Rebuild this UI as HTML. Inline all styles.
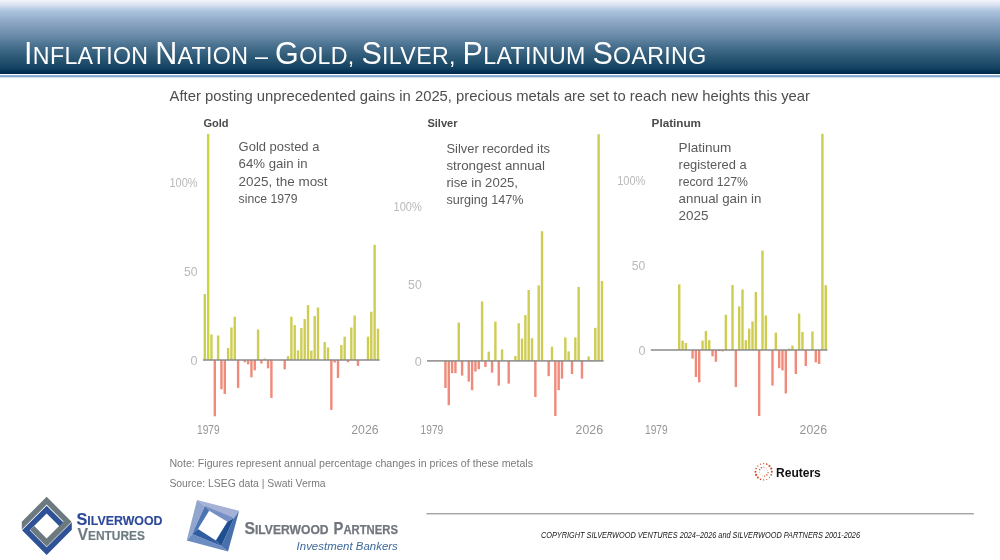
<!DOCTYPE html>
<html lang="en">
<head>
<meta charset="utf-8">
<title>Inflation Nation – Gold, Silver, Platinum Soaring</title>
<style>
html,body{margin:0;padding:0;background:#fff;}
body{width:1000px;height:560px;overflow:hidden;position:relative;font-family:"Liberation Sans",sans-serif;}
#hdr{position:absolute;left:0;top:0;width:1000px;height:73.5px;
 background:linear-gradient(to bottom,#f3f6fb 0px,#dce4f2 4.5px,#b9cde4 9px,#a8c0dc 12px,#a0b9d4 15px,#8ca5c3 22.5px,#7896b4 30px,#6487a5 37.5px,#4b7391 45px,#376280 52.5px,#26536f 60px,#134262 68px,#002d4e 72.5px,#002d4e 73.5px);}
#hline{position:absolute;left:0;top:75px;width:1000px;height:3.2px;background:linear-gradient(to bottom,#a9c2e0 0%,#86a9d2 25%,#86a9d2 55%,#ffffff 100%);}
#title{position:absolute;left:24px;top:33.1px;margin:0;color:#fff;font-weight:normal;font-size:23.2px;line-height:40px;white-space:nowrap;letter-spacing:0.33px;}
#title b{font-weight:normal;font-size:30.5px;}
svg{position:absolute;left:0;top:0;}
svg text{font-family:"Liberation Sans",sans-serif;}
</style>
</head>
<body>
<div id="hdr"></div>
<div id="hline"></div>
<h1 id="title"><b>I</b>NFLATION <b>N</b>ATION – <b>G</b>OLD, <b>S</b>ILVER, <b>P</b>LATINUM <b>S</b>OARING</h1>
<svg width="1000" height="560" viewBox="0 0 1000 560">
<defs><filter id="bl" x="-5%" y="-5%" width="110%" height="110%"><feGaussianBlur stdDeviation="0.55"/></filter><filter id="bl2" x="-5%" y="-200%" width="110%" height="500%"><feGaussianBlur stdDeviation="0.3"/></filter></defs>
<g filter="url(#bl)"><rect x="203.60" y="294.10" width="2.4" height="65.90" fill="#cecd52"/>
<rect x="206.93" y="133.90" width="2.4" height="226.10" fill="#c8d741"/>
<rect x="210.26" y="334.50" width="2.4" height="25.50" fill="#cecd52"/>
<rect x="216.92" y="335.50" width="2.4" height="24.50" fill="#cecd52"/>
<rect x="226.91" y="348.10" width="2.4" height="11.90" fill="#cecd52"/>
<rect x="230.24" y="327.50" width="2.4" height="32.50" fill="#cecd52"/>
<rect x="233.57" y="316.70" width="2.4" height="43.30" fill="#cecd52"/>
<rect x="256.88" y="329.50" width="2.4" height="30.50" fill="#cecd52"/>
<rect x="263.54" y="358.50" width="2.4" height="1.50" fill="#cecd52"/>
<rect x="286.85" y="356.10" width="2.4" height="3.90" fill="#cecd52"/>
<rect x="290.18" y="316.70" width="2.4" height="43.30" fill="#cecd52"/>
<rect x="293.51" y="325.10" width="2.4" height="34.90" fill="#cecd52"/>
<rect x="296.84" y="350.30" width="2.4" height="9.70" fill="#cecd52"/>
<rect x="300.17" y="328.10" width="2.4" height="31.90" fill="#cecd52"/>
<rect x="303.50" y="319.10" width="2.4" height="40.90" fill="#cecd52"/>
<rect x="306.83" y="305.10" width="2.4" height="54.90" fill="#cecd52"/>
<rect x="310.16" y="350.70" width="2.4" height="9.30" fill="#cecd52"/>
<rect x="313.49" y="316.10" width="2.4" height="43.90" fill="#cecd52"/>
<rect x="316.82" y="307.50" width="2.4" height="52.50" fill="#cecd52"/>
<rect x="323.48" y="342.10" width="2.4" height="17.90" fill="#cecd52"/>
<rect x="326.81" y="347.50" width="2.4" height="12.50" fill="#cecd52"/>
<rect x="340.13" y="345.10" width="2.4" height="14.90" fill="#cecd52"/>
<rect x="343.46" y="336.70" width="2.4" height="23.30" fill="#cecd52"/>
<rect x="350.12" y="327.50" width="2.4" height="32.50" fill="#cecd52"/>
<rect x="353.45" y="315.50" width="2.4" height="44.50" fill="#cecd52"/>
<rect x="366.77" y="336.70" width="2.4" height="23.30" fill="#cecd52"/>
<rect x="370.10" y="311.70" width="2.4" height="48.30" fill="#cecd52"/>
<rect x="373.43" y="244.90" width="2.4" height="115.10" fill="#cecd52"/>
<rect x="376.76" y="328.70" width="2.4" height="31.30" fill="#cecd52"/>
<rect x="213.59" y="360.00" width="2.4" height="56.30" fill="#f08a7a"/>
<rect x="220.25" y="360.00" width="2.4" height="29.30" fill="#f08a7a"/>
<rect x="223.58" y="360.00" width="2.4" height="33.90" fill="#f08a7a"/>
<rect x="236.90" y="360.00" width="2.4" height="27.90" fill="#f08a7a"/>
<rect x="243.56" y="360.00" width="2.4" height="2.30" fill="#f08a7a"/>
<rect x="246.89" y="360.00" width="2.4" height="4.30" fill="#f08a7a"/>
<rect x="250.22" y="360.00" width="2.4" height="17.30" fill="#f08a7a"/>
<rect x="253.55" y="360.00" width="2.4" height="10.30" fill="#f08a7a"/>
<rect x="260.21" y="360.00" width="2.4" height="3.50" fill="#f08a7a"/>
<rect x="266.87" y="360.00" width="2.4" height="8.30" fill="#f08a7a"/>
<rect x="270.20" y="360.00" width="2.4" height="37.90" fill="#f08a7a"/>
<rect x="283.52" y="360.00" width="2.4" height="9.30" fill="#f08a7a"/>
<rect x="330.14" y="360.00" width="2.4" height="49.90" fill="#f08a7a"/>
<rect x="333.47" y="360.00" width="2.4" height="2.50" fill="#f08a7a"/>
<rect x="336.80" y="360.00" width="2.4" height="17.90" fill="#f08a7a"/>
<rect x="346.79" y="360.00" width="2.4" height="2.30" fill="#f08a7a"/>
<rect x="356.78" y="360.00" width="2.4" height="5.90" fill="#f08a7a"/></g>
<rect x="203" y="359.25" width="176.6" height="1.5" fill="#8a8a8a" filter="url(#bl2)"/>
<g filter="url(#bl)"><rect x="457.57" y="322.60" width="2.4" height="38.30" fill="#cecd52"/>
<rect x="480.88" y="301.40" width="2.4" height="59.50" fill="#cecd52"/>
<rect x="487.54" y="351.60" width="2.4" height="9.30" fill="#cecd52"/>
<rect x="494.20" y="321.60" width="2.4" height="39.30" fill="#cecd52"/>
<rect x="500.86" y="349.40" width="2.4" height="11.50" fill="#cecd52"/>
<rect x="514.18" y="356.00" width="2.4" height="4.90" fill="#cecd52"/>
<rect x="517.51" y="323.20" width="2.4" height="37.70" fill="#cecd52"/>
<rect x="520.84" y="338.60" width="2.4" height="22.30" fill="#cecd52"/>
<rect x="524.17" y="315.00" width="2.4" height="45.90" fill="#cecd52"/>
<rect x="527.50" y="290.00" width="2.4" height="70.90" fill="#cecd52"/>
<rect x="530.83" y="338.20" width="2.4" height="22.70" fill="#cecd52"/>
<rect x="537.49" y="285.40" width="2.4" height="75.50" fill="#cecd52"/>
<rect x="540.82" y="231.20" width="2.4" height="129.70" fill="#cecd52"/>
<rect x="550.81" y="346.60" width="2.4" height="14.30" fill="#cecd52"/>
<rect x="564.13" y="337.40" width="2.4" height="23.50" fill="#cecd52"/>
<rect x="567.46" y="351.40" width="2.4" height="9.50" fill="#cecd52"/>
<rect x="574.12" y="337.40" width="2.4" height="23.50" fill="#cecd52"/>
<rect x="577.45" y="287.00" width="2.4" height="73.90" fill="#cecd52"/>
<rect x="587.44" y="356.40" width="2.4" height="4.50" fill="#cecd52"/>
<rect x="594.10" y="327.80" width="2.4" height="33.10" fill="#cecd52"/>
<rect x="597.43" y="134.20" width="2.4" height="226.70" fill="#cecd52"/>
<rect x="600.76" y="281.00" width="2.4" height="79.90" fill="#cecd52"/>
<rect x="444.25" y="360.90" width="2.4" height="27.10" fill="#f08a7a"/>
<rect x="447.58" y="360.90" width="2.4" height="44.30" fill="#f08a7a"/>
<rect x="450.91" y="360.90" width="2.4" height="12.30" fill="#f08a7a"/>
<rect x="454.24" y="360.90" width="2.4" height="12.30" fill="#f08a7a"/>
<rect x="460.90" y="360.90" width="2.4" height="14.70" fill="#f08a7a"/>
<rect x="467.56" y="360.90" width="2.4" height="20.70" fill="#f08a7a"/>
<rect x="470.89" y="360.90" width="2.4" height="29.30" fill="#f08a7a"/>
<rect x="474.22" y="360.90" width="2.4" height="10.70" fill="#f08a7a"/>
<rect x="477.55" y="360.90" width="2.4" height="8.30" fill="#f08a7a"/>
<rect x="484.21" y="360.90" width="2.4" height="6.10" fill="#f08a7a"/>
<rect x="490.87" y="360.90" width="2.4" height="11.70" fill="#f08a7a"/>
<rect x="497.53" y="360.90" width="2.4" height="24.70" fill="#f08a7a"/>
<rect x="507.52" y="360.90" width="2.4" height="22.70" fill="#f08a7a"/>
<rect x="534.16" y="360.90" width="2.4" height="36.10" fill="#f08a7a"/>
<rect x="547.48" y="360.90" width="2.4" height="15.30" fill="#f08a7a"/>
<rect x="554.14" y="360.90" width="2.4" height="55.10" fill="#f08a7a"/>
<rect x="557.47" y="360.90" width="2.4" height="29.30" fill="#f08a7a"/>
<rect x="560.80" y="360.90" width="2.4" height="17.70" fill="#f08a7a"/>
<rect x="570.79" y="360.90" width="2.4" height="13.10" fill="#f08a7a"/>
<rect x="580.78" y="360.90" width="2.4" height="17.70" fill="#f08a7a"/>
<rect x="590.77" y="360.90" width="2.4" height="0.70" fill="#f08a7a"/></g>
<rect x="427" y="360.15" width="176.6" height="1.5" fill="#8a8a8a" filter="url(#bl2)"/>
<g filter="url(#bl)"><rect x="678.04" y="284.40" width="2.4" height="65.60" fill="#cecd52"/>
<rect x="681.37" y="340.60" width="2.4" height="9.40" fill="#cecd52"/>
<rect x="684.70" y="343.00" width="2.4" height="7.00" fill="#cecd52"/>
<rect x="701.35" y="340.60" width="2.4" height="9.40" fill="#cecd52"/>
<rect x="704.68" y="331.00" width="2.4" height="19.00" fill="#cecd52"/>
<rect x="708.01" y="340.20" width="2.4" height="9.80" fill="#cecd52"/>
<rect x="724.66" y="314.80" width="2.4" height="35.20" fill="#cecd52"/>
<rect x="731.32" y="285.00" width="2.4" height="65.00" fill="#cecd52"/>
<rect x="737.98" y="306.40" width="2.4" height="43.60" fill="#cecd52"/>
<rect x="741.31" y="289.40" width="2.4" height="60.60" fill="#cecd52"/>
<rect x="744.64" y="340.20" width="2.4" height="9.80" fill="#cecd52"/>
<rect x="747.97" y="328.60" width="2.4" height="21.40" fill="#cecd52"/>
<rect x="751.30" y="321.40" width="2.4" height="28.60" fill="#cecd52"/>
<rect x="754.63" y="292.00" width="2.4" height="58.00" fill="#cecd52"/>
<rect x="761.29" y="250.60" width="2.4" height="99.40" fill="#cecd52"/>
<rect x="764.62" y="315.40" width="2.4" height="34.60" fill="#cecd52"/>
<rect x="774.61" y="332.60" width="2.4" height="17.40" fill="#cecd52"/>
<rect x="787.93" y="348.60" width="2.4" height="1.40" fill="#cecd52"/>
<rect x="791.26" y="345.60" width="2.4" height="4.40" fill="#cecd52"/>
<rect x="797.92" y="313.60" width="2.4" height="36.40" fill="#cecd52"/>
<rect x="801.25" y="332.00" width="2.4" height="18.00" fill="#cecd52"/>
<rect x="811.24" y="331.40" width="2.4" height="18.60" fill="#cecd52"/>
<rect x="821.23" y="133.80" width="2.4" height="216.20" fill="#cecd52"/>
<rect x="824.56" y="285.20" width="2.4" height="64.80" fill="#cecd52"/>
<rect x="691.36" y="350.00" width="2.4" height="8.60" fill="#f08a7a"/>
<rect x="694.69" y="350.00" width="2.4" height="27.00" fill="#f08a7a"/>
<rect x="698.02" y="350.00" width="2.4" height="32.40" fill="#f08a7a"/>
<rect x="711.34" y="350.00" width="2.4" height="6.40" fill="#f08a7a"/>
<rect x="714.67" y="350.00" width="2.4" height="11.80" fill="#f08a7a"/>
<rect x="718.00" y="350.00" width="2.4" height="1.00" fill="#f08a7a"/>
<rect x="721.33" y="350.00" width="2.4" height="1.40" fill="#f08a7a"/>
<rect x="734.65" y="350.00" width="2.4" height="37.00" fill="#f08a7a"/>
<rect x="757.96" y="350.00" width="2.4" height="66.00" fill="#f08a7a"/>
<rect x="771.28" y="350.00" width="2.4" height="35.60" fill="#f08a7a"/>
<rect x="777.94" y="350.00" width="2.4" height="18.20" fill="#f08a7a"/>
<rect x="781.27" y="350.00" width="2.4" height="20.40" fill="#f08a7a"/>
<rect x="784.60" y="350.00" width="2.4" height="43.40" fill="#f08a7a"/>
<rect x="794.59" y="350.00" width="2.4" height="24.00" fill="#f08a7a"/>
<rect x="804.58" y="350.00" width="2.4" height="16.00" fill="#f08a7a"/>
<rect x="814.57" y="350.00" width="2.4" height="12.40" fill="#f08a7a"/>
<rect x="817.90" y="350.00" width="2.4" height="14.00" fill="#f08a7a"/></g>
<rect x="650.8" y="349.25" width="176.6" height="1.5" fill="#8a8a8a" filter="url(#bl2)"/>
<text x="169.6" y="100.6" font-size="14.8" fill="#4d4d4d" textLength="640.4" lengthAdjust="spacingAndGlyphs">After posting unprecedented gains in 2025, precious metals are set to reach new heights this year</text>
<text x="203.4" y="127" font-size="11.6" fill="#4a4a4a" font-weight="bold" textLength="25.2" lengthAdjust="spacingAndGlyphs">Gold</text>
<text x="427.4" y="127" font-size="11.6" fill="#4a4a4a" font-weight="bold" textLength="30.2" lengthAdjust="spacingAndGlyphs">Silver</text>
<text x="651.6" y="127" font-size="11.6" fill="#4a4a4a" font-weight="bold" textLength="49.4" lengthAdjust="spacingAndGlyphs">Platinum</text>
<text x="238.6" y="151.4" font-size="13.1" fill="#5a5a5a" textLength="80.8" lengthAdjust="spacingAndGlyphs">Gold posted a</text>
<text x="238.6" y="168.4" font-size="13.1" fill="#5a5a5a" textLength="69" lengthAdjust="spacingAndGlyphs">64% gain in</text>
<text x="238.6" y="185.6" font-size="13.1" fill="#5a5a5a" textLength="89" lengthAdjust="spacingAndGlyphs">2025, the most</text>
<text x="238.6" y="202.7" font-size="13.1" fill="#5a5a5a" textLength="59" lengthAdjust="spacingAndGlyphs">since 1979</text>
<text x="446.4" y="153" font-size="13.1" fill="#5a5a5a" textLength="103.6" lengthAdjust="spacingAndGlyphs">Silver recorded its</text>
<text x="446.4" y="170" font-size="13.1" fill="#5a5a5a" textLength="98.6" lengthAdjust="spacingAndGlyphs">strongest annual</text>
<text x="446.4" y="187" font-size="13.1" fill="#5a5a5a" textLength="71.6" lengthAdjust="spacingAndGlyphs">rise in 2025,</text>
<text x="446.4" y="204" font-size="13.1" fill="#5a5a5a" textLength="77.2" lengthAdjust="spacingAndGlyphs">surging 147%</text>
<text x="678.6" y="152" font-size="13.1" fill="#5a5a5a" textLength="52.8" lengthAdjust="spacingAndGlyphs">Platinum</text>
<text x="678.6" y="169" font-size="13.1" fill="#5a5a5a" textLength="68" lengthAdjust="spacingAndGlyphs">registered a</text>
<text x="678.6" y="186" font-size="13.1" fill="#5a5a5a" textLength="69.4" lengthAdjust="spacingAndGlyphs">record 127%</text>
<text x="678.6" y="203.3" font-size="13.1" fill="#5a5a5a" textLength="82.8" lengthAdjust="spacingAndGlyphs">annual gain in</text>
<text x="678.6" y="220.4" font-size="13.1" fill="#5a5a5a" textLength="30" lengthAdjust="spacingAndGlyphs">2025</text>
<text x="197.6" y="186.5" font-size="12.6" fill="#b9b9b9" text-anchor="end" textLength="28.2" lengthAdjust="spacingAndGlyphs">100%</text>
<text x="197.6" y="275.9" font-size="12.6" fill="#b9b9b9" text-anchor="end" textLength="13.6" lengthAdjust="spacingAndGlyphs">50</text>
<text x="197.6" y="364.9" font-size="12.6" fill="#b9b9b9" text-anchor="end" textLength="7" lengthAdjust="spacingAndGlyphs">0</text>
<text x="421.7" y="211.2" font-size="12.6" fill="#b9b9b9" text-anchor="end" textLength="28.2" lengthAdjust="spacingAndGlyphs">100%</text>
<text x="421.7" y="289" font-size="12.6" fill="#b9b9b9" text-anchor="end" textLength="13.6" lengthAdjust="spacingAndGlyphs">50</text>
<text x="421.7" y="366.1" font-size="12.6" fill="#b9b9b9" text-anchor="end" textLength="7" lengthAdjust="spacingAndGlyphs">0</text>
<text x="645.4" y="185.3" font-size="12.6" fill="#b9b9b9" text-anchor="end" textLength="28.2" lengthAdjust="spacingAndGlyphs">100%</text>
<text x="645.4" y="270.4" font-size="12.6" fill="#b9b9b9" text-anchor="end" textLength="13.6" lengthAdjust="spacingAndGlyphs">50</text>
<text x="645.4" y="354.9" font-size="12.6" fill="#b9b9b9" text-anchor="end" textLength="7" lengthAdjust="spacingAndGlyphs">0</text>
<text x="197" y="434" font-size="12.4" fill="#969696" textLength="22.6" lengthAdjust="spacingAndGlyphs">1979</text>
<text x="378.6" y="434" font-size="12.4" fill="#969696" text-anchor="end" textLength="27.4" lengthAdjust="spacingAndGlyphs">2026</text>
<text x="420.6" y="434" font-size="12.4" fill="#969696" textLength="22.6" lengthAdjust="spacingAndGlyphs">1979</text>
<text x="603" y="434" font-size="12.4" fill="#969696" text-anchor="end" textLength="27.4" lengthAdjust="spacingAndGlyphs">2026</text>
<text x="645" y="434" font-size="12.4" fill="#969696" textLength="22.6" lengthAdjust="spacingAndGlyphs">1979</text>
<text x="827" y="434" font-size="12.4" fill="#969696" text-anchor="end" textLength="27.4" lengthAdjust="spacingAndGlyphs">2026</text>
<text x="169.4" y="467" font-size="10.6" fill="#7a7a7a" textLength="363.6" lengthAdjust="spacingAndGlyphs">Note: Figures represent annual percentage changes in prices of these metals</text>
<text x="169.4" y="487" font-size="10.6" fill="#7a7a7a" textLength="156.2" lengthAdjust="spacingAndGlyphs">Source: LSEG data | Swati Verma</text>
<g fill="#d2451e"><circle cx="763.65" cy="479.95" r="0.63"/><circle cx="760.51" cy="479.33" r="0.81"/><circle cx="757.85" cy="477.55" r="0.99"/><circle cx="756.07" cy="474.89" r="1.05"/><circle cx="755.45" cy="471.75" r="0.97"/><circle cx="756.07" cy="468.61" r="0.79"/><circle cx="757.85" cy="465.95" r="0.61"/><circle cx="760.51" cy="464.17" r="0.55"/><circle cx="763.65" cy="463.55" r="0.63"/><circle cx="766.79" cy="464.17" r="0.81"/><circle cx="769.45" cy="465.95" r="0.99"/><circle cx="771.23" cy="468.61" r="1.05"/><circle cx="771.85" cy="471.75" r="0.97"/><circle cx="771.23" cy="474.89" r="0.79"/><circle cx="769.45" cy="477.55" r="0.61"/><circle cx="766.79" cy="479.33" r="0.55"/><circle cx="768.06" cy="472.64" r="0.61"/><circle cx="766.88" cy="474.89" r="0.75"/><circle cx="764.67" cy="476.13" r="0.62"/><circle cx="762.14" cy="475.99" r="0.38"/><circle cx="760.09" cy="474.50" r="0.31"/><circle cx="759.17" cy="472.13" r="0.49"/><circle cx="759.67" cy="469.65" r="0.71"/><circle cx="761.44" cy="467.83" r="0.72"/><circle cx="763.91" cy="467.26" r="0.50"/><circle cx="766.30" cy="468.11" r="0.31"/><circle cx="767.84" cy="470.12" r="0.37"/></g>
<text x="776" y="476.6" font-size="12.2" fill="#111111" font-weight="bold" textLength="44.8" lengthAdjust="spacingAndGlyphs">Reuters</text>
<rect x="426.4" y="513.3" width="547.5" height="1" fill="#7f7f7f"/>
<text x="541" y="538.1" font-size="8.3" fill="#151515" font-style="italic" textLength="319" lengthAdjust="spacingAndGlyphs">COPYRIGHT SILVERWOOD VENTURES 2024–2026 and SILVERWOOD PARTNERS 2001-2026</text>
<polygon fill="#6c7a80" points="21.8,521.65 46.65,496.8 71.5,521.65 46.65,546.5 30.15,530 34.2,525.95 46.65,538.4 63.55,521.5 46.65,504.6 21.8,529.45"/>
<polygon fill="#2f5296" points="22.1,530.35 46.65,554.9 71.8,529.75 71.8,522.2 46.65,547.3 29.7,530.35 46.65,513.4 59.4,526.15 63.2,522.35 46.65,505.8"/>
<text x="76.5" y="524.8" fill="#2d4a9a" stroke="#2d4a9a" stroke-width="0.15" font-weight="bold" textLength="86" lengthAdjust="spacingAndGlyphs"><tspan font-size="16.8">S</tspan><tspan font-size="12.8">ILVERWOOD</tspan></text>
<text x="77.4" y="539.8" fill="#6d7b82" stroke="#6d7b82" stroke-width="0.15" font-weight="bold" textLength="67.6" lengthAdjust="spacingAndGlyphs"><tspan font-size="17.4">V</tspan><tspan font-size="13.1">ENTURES</tspan></text>
<polygon fill="#a5b0d6" points="197.01,499.90 239.17,510.83 234.07,518.12 209.16,510.83 204.91,505.97"/>
<polygon fill="#7790c4" points="204.91,505.97 209.16,510.83 227.39,521.77 234.07,518.12"/>
<polygon fill="#92a5cf" points="197.01,499.90 204.91,505.97 192.15,533.92 186.68,540.60"/>
<polygon fill="#4d74b2" points="204.91,505.97 209.16,510.83 197.98,529.06 192.15,533.92"/>
<polygon fill="#6c8cc2" points="186.68,540.60 192.15,533.92 221.31,546.07 228.00,551.54"/>
<polygon fill="#2f5d9f" points="192.15,533.92 197.98,529.06 215.84,540.60 221.31,546.07"/>
<polygon fill="#4a70ab" points="228.00,551.54 221.31,546.07 234.07,518.12 239.17,510.83"/>
<polygon fill="#1f4f93" points="221.31,546.07 215.84,540.60 227.39,521.77 234.07,518.12"/>
<text x="244.4" y="534.2" fill="#71767e" stroke="#71767e" stroke-width="0.25" font-weight="bold" textLength="84.2" lengthAdjust="spacingAndGlyphs"><tspan font-size="15.9">S</tspan><tspan font-size="12.2">ILVERWOOD</tspan></text>
<text x="333.6" y="534.2" fill="#71767e" stroke="#71767e" stroke-width="0.25" font-weight="bold" textLength="64.4" lengthAdjust="spacingAndGlyphs"><tspan font-size="15.9">P</tspan><tspan font-size="12.2">ARTNERS</tspan></text>
<text x="296.6" y="549.9" font-size="10.8" fill="#3d6a9c" font-style="italic" textLength="101.2" lengthAdjust="spacingAndGlyphs">Investment Bankers</text>
</svg>
</body>
</html>
